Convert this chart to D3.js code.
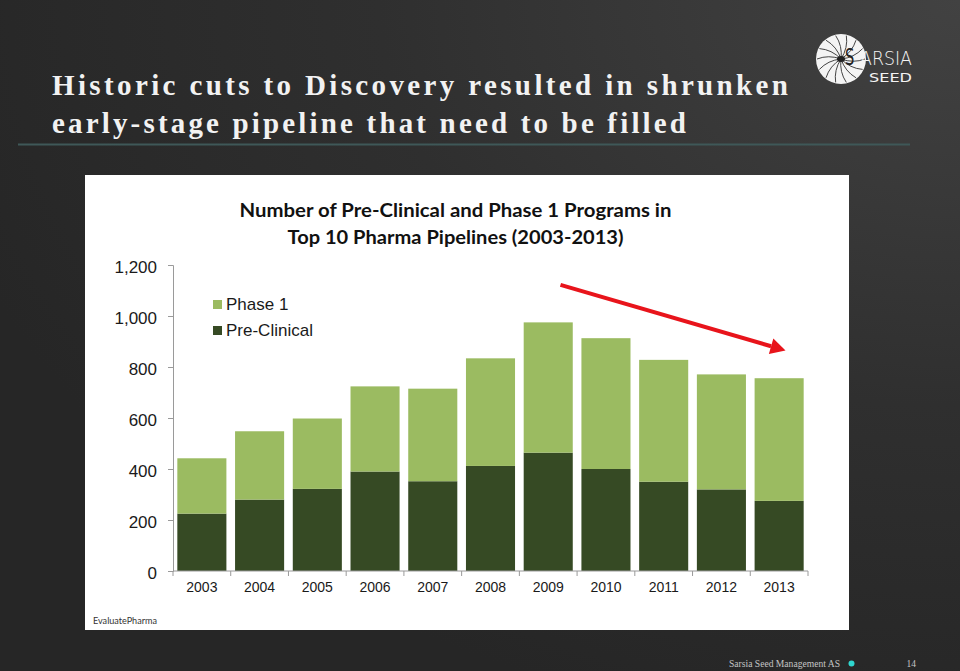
<!DOCTYPE html>
<html>
<head>
<meta charset="utf-8">
<script src="https://cdn.jsdelivr.net/npm/d3@7"></script>
<style>
  html, body { margin: 0; padding: 0; background: #2a2a2a; }
  svg { display: block; }
</style>
</head>
<body>
<svg id="chart" width="960" height="671"></svg>
<script>
// ---- data ----
const years = ["2003","2004","2005","2006","2007","2008","2009","2010","2011","2012","2013"];
const preClinical = [225, 280, 322, 390, 352, 412, 464, 400, 350, 320, 275];
const phase1 = [217, 268, 276, 334, 363, 422, 511, 513, 478, 451, 481];
const yTicks = [0, 200, 400, 600, 800, 1000, 1200];
const seriesNames = ["Phase 1", "Pre-Clinical"];
const titleLines = ["Historic cuts to Discovery resulted in shrunken", "early-stage pipeline that need to be filled"];
const chartTitleLines = ["Number of Pre-Clinical and Phase 1 Programs in", "Top 10 Pharma Pipelines (2003-2013)"];

const colors = { "Phase 1": "#9bbb61", "Pre-Clinical": "#364a24" };

const svg = d3.select("#chart");

// ---- background ----
const defs = svg.append("defs");
const bg = defs.append("radialGradient").attr("id", "bg")
  .attr("cx", "100%").attr("cy", "0%").attr("r", "110%");
bg.append("stop").attr("offset", "0%").attr("stop-color", "#424242");
bg.append("stop").attr("offset", "55%").attr("stop-color", "#2f2f2f");
bg.append("stop").attr("offset", "100%").attr("stop-color", "#262626");
svg.append("rect").attr("width", 960).attr("height", 671).attr("fill", "url(#bg)");

// ---- slide title ----
const titleWidths = [736, 634];
svg.selectAll("text.slideTitle").data(titleLines).enter().append("text")
  .attr("class", "slideTitle")
  .attr("x", 52).attr("y", (d, i) => 95 + i * 38)
  .attr("textLength", (d, i) => titleWidths[i])
  .attr("lengthAdjust", "spacing")
  .style("font-family", "'Liberation Serif', 'Times New Roman', serif")
  .style("font-weight", "bold").style("font-size", "29px")
  .attr("fill", "#f2f2f2")
  .text(d => d);

svg.append("line").attr("x1", 18).attr("x2", 910).attr("y1", 144.5).attr("y2", 144.5)
  .attr("stroke", "#3f5858").attr("stroke-width", 2);

// ---- logo ----
const logo = svg.append("g").attr("transform", "translate(841,59)");
logo.append("circle").attr("r", 25).attr("fill", "#f4f4f4");
const nLegs = 14;
for (let k = 0; k < nLegs; k++) {
  const a = (k / nLegs) * Math.PI * 2;
  const r1 = 24, bend = 0.35;
  const x2 = Math.cos(a) * r1, y2 = Math.sin(a) * r1;
  const cx = Math.cos(a + bend) * r1 * 0.55, cy = Math.sin(a + bend) * r1 * 0.55;
  logo.append("path").attr("d", `M0,0 Q${cx},${cy} ${x2},${y2}`)
    .attr("fill", "none").attr("stroke", "#444").attr("stroke-width", 1);
}
logo.append("ellipse").attr("rx", 4).attr("ry", 3).attr("fill", "#222");
svg.append("text").attr("x", 845).attr("y", 65)
  .style("font-family", "'DejaVu Sans', sans-serif").style("font-size", "21px")
  .attr("fill", "#222").attr("transform", "translate(845,65) scale(0.7,1.1) translate(-845,-65)")
  .text("S");
svg.append("text").attr("x", 860).attr("y", 64.5).attr("textLength", 52).attr("lengthAdjust", "spacingAndGlyphs")
  .style("font-family", "'DejaVu Sans', sans-serif").style("font-size", "20px").style("font-weight", "300")
  .attr("fill", "#f4f4f4").text("ARSIA");
svg.append("text").attr("x", 869).attr("y", 82).attr("textLength", 43).attr("lengthAdjust", "spacingAndGlyphs")
  .style("font-family", "'DejaVu Sans', sans-serif").style("font-size", "11.5px")
  .attr("fill", "#f4f4f4").text("SEED");

// ---- chart panel ----
svg.append("rect").attr("x", 85).attr("y", 175).attr("width", 764).attr("height", 455)
  .attr("fill", "#ffffff");

const chartTitleWidths = [432, 336];
svg.selectAll("text.chartTitle").data(chartTitleLines).enter().append("text")
  .attr("class", "chartTitle")
  .attr("x", 455.5).attr("y", (d, i) => 217 + i * 27)
  .attr("text-anchor", "middle")
  .attr("textLength", (d, i) => chartTitleWidths[i])
  .attr("lengthAdjust", "spacingAndGlyphs")
  .style("font-family", "Lato, 'Open Sans', sans-serif")
  .style("font-weight", "bold").style("font-size", "18px")
  .attr("fill", "#111")
  .text(d => d);

// ---- scales ----
const x = d3.scaleBand().domain(years).range([173, 808]).paddingInner(0.15).paddingOuter(0.075);
const y = d3.scaleLinear().domain([0, 1200]).range([571, 265]);

const rows = years.map((yr, i) => ({ year: yr, "Pre-Clinical": preClinical[i], "Phase 1": phase1[i] }));
const stack = d3.stack().keys(["Pre-Clinical", "Phase 1"]);
const stacked = stack(rows);

svg.append("g").selectAll("g").data(stacked).enter().append("g")
  .attr("fill", d => colors[d.key])
  .selectAll("rect").data(d => d).enter().append("rect")
  .attr("x", d => x(d.data.year))
  .attr("width", x.bandwidth())
  .attr("y", d => y(d[1]))
  .attr("height", d => y(d[0]) - y(d[1]));

// ---- axes ----
const axisColor = "#9a9a9a";
const yAxis = svg.append("g").attr("transform", "translate(173,0)")
  .call(d3.axisLeft(y).tickValues(yTicks).tickSize(5).tickPadding(11).tickFormat(d3.format(",")));
yAxis.select(".domain").attr("stroke", axisColor);
yAxis.selectAll(".tick line").attr("stroke", axisColor);
yAxis.selectAll(".tick text")
  .style("font-family", "'Liberation Sans', Arial, sans-serif").style("font-size", "17px")
  .attr("fill", "#1a1a1a").attr("dy", "0.42em");

const xAxis = svg.append("g").attr("transform", "translate(0,571)");
xAxis.append("line").attr("x1", 173).attr("x2", 808).attr("stroke", axisColor);
const step = x.step();
const boundaries = d3.range(years.length + 1).map(i => x.range()[0] + i * step);
xAxis.selectAll("line.tk").data(boundaries).enter().append("line")
  .attr("class", "tk").attr("x1", d => d).attr("x2", d => d).attr("y1", 0).attr("y2", 5)
  .attr("stroke", axisColor);
xAxis.selectAll("text").data(years).enter().append("text")
  .attr("x", d => x(d) + x.bandwidth() / 2).attr("y", 21)
  .attr("text-anchor", "middle")
  .style("font-family", "'Liberation Sans', Arial, sans-serif").style("font-size", "14px")
  .attr("fill", "#1a1a1a").text(d => d);

// ---- legend ----
const legend = svg.append("g");
seriesNames.forEach((name, i) => {
  const ly = 310 + i * 26;
  legend.append("rect").attr("x", 213).attr("y", ly - 10).attr("width", 9).attr("height", 9)
    .attr("fill", colors[name]);
  legend.append("text").attr("x", 226).attr("y", ly)
    .style("font-family", "'Liberation Sans', Arial, sans-serif").style("font-size", "17px")
    .attr("fill", "#1a1a1a").text(name);
});

// ---- trend arrow ----
const ax1 = x("2009") + x.bandwidth() * 0.75, ay1 = y(1122);
const ax2 = x("2013") + x.bandwidth() * 0.63, ay2 = y(865);
const ang = Math.atan2(ay2 - ay1, ax2 - ax1);
const headLen = 15, headW = 8;
const bx = ax2 - Math.cos(ang) * headLen, by = ay2 - Math.sin(ang) * headLen;
svg.append("line").attr("x1", ax1).attr("y1", ay1).attr("x2", bx).attr("y2", by)
  .attr("stroke", "#e8141b").attr("stroke-width", 4);
svg.append("path")
  .attr("d", `M${ax2},${ay2} L${bx - Math.sin(ang) * headW},${by + Math.cos(ang) * headW} L${bx + Math.sin(ang) * headW},${by - Math.cos(ang) * headW} Z`)
  .attr("fill", "#e8141b");

// ---- source ----
svg.append("text").attr("x", 93).attr("y", 624).attr("textLength", 64).attr("lengthAdjust", "spacingAndGlyphs")
  .style("font-family", "Lato, 'Open Sans', sans-serif").style("font-size", "10px")
  .attr("fill", "#333").text("EvaluatePharma");

// ---- footer ----
svg.append("text").attr("x", 729).attr("y", 667).attr("textLength", 111).attr("lengthAdjust", "spacingAndGlyphs")
  .style("font-family", "'Liberation Serif', serif").style("font-size", "9.5px")
  .attr("fill", "#c4c4c4").text("Sarsia Seed Management AS");
svg.append("circle").attr("cx", 851.5).attr("cy", 663.5).attr("r", 3).attr("fill", "#2fd6cf");
svg.append("text").attr("x", 906.5).attr("y", 667)
  .style("font-family", "'Liberation Serif', serif").style("font-size", "9.5px")
  .attr("fill", "#c4c4c4").text("14");
</script>
</body>
</html>
